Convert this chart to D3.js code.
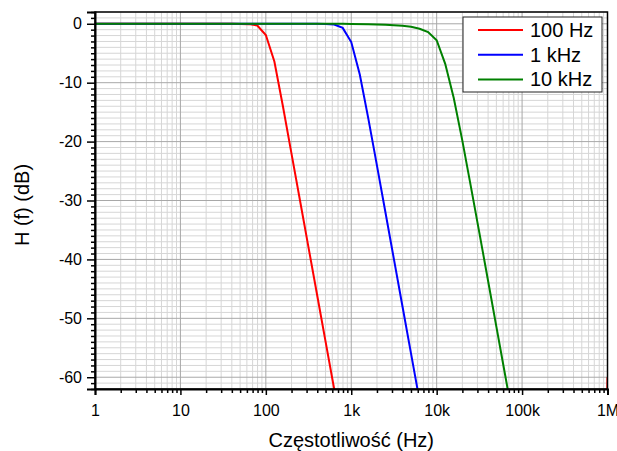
<!DOCTYPE html>
<html>
<head>
<meta charset="utf-8">
<script src="https://cdn.jsdelivr.net/npm/d3@7"></script>
<style>
  body { margin: 0; background: #fff; }
  text { font-family: "Liberation Sans", Arial, sans-serif; fill: #000; }
</style>
</head>
<body>
<div id="chart"></div>
<script>
// data: [frequency Hz, H(f) dB]
const red100 = [[1,0],[40,0],[50,-0.02],[63.1,-0.06],[79.4,-0.3],[100,-1.9],[125.9,-6.4],
  [158.5,-14],[199.5,-22],[251.2,-30],[316.2,-38],[398.1,-46],[501.2,-54],[631,-62],[794.3,-70],
  [794300,-140],[1000000,-60]];
const blue1k = [[1,0],[300,0],[398.1,-0.01],[501.2,-0.03],[631,-0.12],[794.3,-0.7],[1000,-3.1],
  [1259,-8.6],[1585,-16.1],[1995,-24],[2512,-32],[3162,-40],[3981,-48],[5012,-56],[6310,-64],[7943,-72]];
const green10k = [[1,0],[800,0],[1000,-0.04],[1585,-0.08],[1995,-0.12],[2512,-0.17],[3162,-0.24],
  [3981,-0.34],[5012,-0.5],[6310,-0.85],[7943,-1.4],[10000,-2.8],[12590,-6.8],[15850,-12.6],
  [19950,-19.8],[25120,-27.6],[31620,-35.5],[39810,-43.5],[50120,-51.5],[63100,-59.5],[79430,-67.5]];

const seriesNames = ["100 Hz", "1 kHz", "10 kHz"];
const seriesColors = ["#ff0000", "#0000ff", "#008000"];
const seriesData = [red100, blue1k, green10k];

const xTickValues = [1, 10, 100, 1000, 10000, 100000, 1000000];
const xTickLabels = ["1", "10", "100", "1k", "10k", "100k", "1M"];
const yTickValues = [0, -10, -20, -30, -40, -50, -60];
const yTickLabels = ["0", "-10", "-20", "-30", "-40", "-50", "-60"];

const W = 617, H = 451;
const margin = {top: 12, right: 9.5, bottom: 62, left: 95};
const width = W - margin.left - margin.right,
      height = H - margin.top - margin.bottom;

const svg = d3.select("#chart").append("svg")
    .attr("width", W).attr("height", H);
const g = svg.append("g")
    .attr("transform", `translate(${margin.left},${margin.top})`);

const x = d3.scaleLog().domain([1, 1e6]).range([0, width]);
const y = d3.scaleLinear().domain([-62, 2]).range([height, 0]);

// minor values
const xMinor = [];
for (let d = 1; d < 1e6; d *= 10) for (let m = 2; m <= 9; m++) xMinor.push(d * m);
const yMinor = d3.range(-62, 3).filter(v => v % 10 !== 0);

// grid
g.append("g").selectAll("line").data(xMinor).join("line")
  .attr("x1", d => x(d)).attr("x2", d => x(d)).attr("y1", 0).attr("y2", height)
  .attr("stroke", "#d6d6d6").attr("stroke-width", 1);
g.append("g").selectAll("line").data(yMinor).join("line")
  .attr("y1", d => y(d)).attr("y2", d => y(d)).attr("x1", 0).attr("x2", width)
  .attr("stroke", "#d6d6d6").attr("stroke-width", 1);
g.append("g").selectAll("line").data(xTickValues).join("line")
  .attr("x1", d => x(d)).attr("x2", d => x(d)).attr("y1", 0).attr("y2", height)
  .attr("stroke", "#a8a8a8").attr("stroke-width", 1);
g.append("g").selectAll("line").data(yTickValues).join("line")
  .attr("y1", d => y(d)).attr("y2", d => y(d)).attr("x1", 0).attr("x2", width)
  .attr("stroke", "#a8a8a8").attr("stroke-width", 1);

// curves
svg.append("clipPath").attr("id", "clip")
  .append("rect").attr("width", width).attr("height", height);

const line = d3.line().x(d => x(d[0])).y(d => y(d[1]));
g.append("g").attr("clip-path", "url(#clip)")
  .selectAll("path").data(seriesData).join("path")
    .attr("fill", "none")
    .attr("stroke", (d, i) => seriesColors[i])
    .attr("stroke-width", 2)
    .attr("d", line);

// frame
g.append("rect").attr("width", width).attr("height", height)
  .attr("fill", "none").attr("stroke", "#000").attr("stroke-width", 1.5);

// axes
const xAxis = g.append("g").attr("transform", `translate(0,${height})`)
  .call(d3.axisBottom(x).tickValues(xTickValues)
    .tickFormat((d, i) => xTickLabels[i]).tickSize(6).tickPadding(10));
g.append("g").attr("transform", `translate(0,${height})`)
  .call(d3.axisBottom(x).tickValues(xMinor).tickFormat("").tickSize(4))
  .select(".domain").remove();
const yAxis = g.append("g")
  .call(d3.axisLeft(y).tickValues(yTickValues)
    .tickFormat((d, i) => yTickLabels[i]).tickSize(8).tickPadding(5));
g.append("g")
  .call(d3.axisLeft(y).tickValues(yMinor).tickFormat("").tickSize(4))
  .select(".domain").remove();

g.selectAll(".tick line").attr("stroke", "#000").attr("stroke-width", 1.5);
g.selectAll(".domain").attr("stroke", "#000").attr("stroke-width", 2);
xAxis.selectAll("text").style("font-size", "16px").style("font-family", "Liberation Sans, Arial, sans-serif");
yAxis.selectAll("text").style("font-size", "16px").style("font-family", "Liberation Sans, Arial, sans-serif");

// axis titles
svg.append("text")
  .attr("x", margin.left + width / 2).attr("y", 447)
  .attr("text-anchor", "middle").style("font-size", "20px")
  .text("Częstotliwość (Hz)");
svg.append("text")
  .attr("transform", "translate(29,205) rotate(-90)")
  .attr("text-anchor", "middle").style("font-size", "20px")
  .text("H (f) (dB)");

// legend
const lg = svg.append("g").attr("transform", "translate(463,17)");
lg.append("rect").attr("width", 139).attr("height", 75)
  .attr("fill", "#fff").attr("stroke", "#222").attr("stroke-width", 1);
seriesNames.forEach((name, i) => {
  const yy = 13 + i * 24.7;
  lg.append("line").attr("x1", 15).attr("x2", 60).attr("y1", yy).attr("y2", yy)
    .attr("stroke", seriesColors[i]).attr("stroke-width", 2);
  lg.append("text").attr("x", 67).attr("y", yy + 7)
    .style("font-size", "20px").text(name);
});
</script>
</body>
</html>
